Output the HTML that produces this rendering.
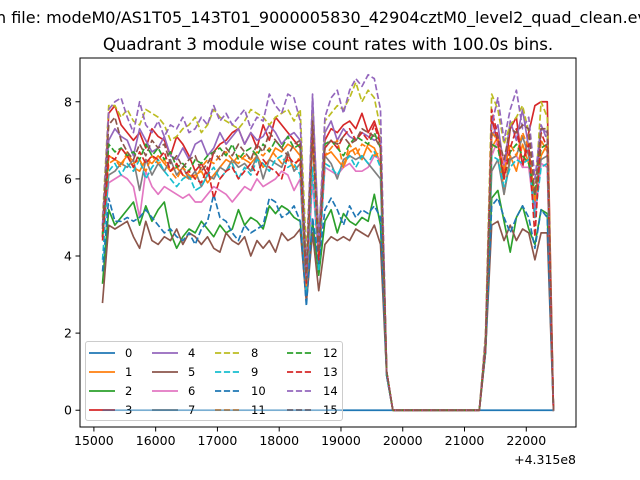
<!DOCTYPE html>
<html><head><meta charset="utf-8"><style>
html,body{margin:0;padding:0;background:#fff;}
svg{display:block;font-family:"DejaVu Sans","Liberation Sans",sans-serif;}
</style></head><body>
<svg id="chart" width="640" height="480" viewBox="0 0 640 480">
<rect x="0" y="0" width="640" height="480" fill="#fff"/>
<text x="-4" y="23" font-size="16.0" fill="#000">n file: modeM0/AS1T05_143T01_9000005830_42904cztM0_level2_quad_clean.evt</text>
<text x="328" y="50" font-size="16.6" text-anchor="middle" fill="#000">Quadrant 3 module wise count rates with 100.0s bins.</text>
<g id="plot"></g>
<g id="axes"></g>
<g id="legend"></g>
</svg>
<script>
const xStart = 15140;
const binSize = 100;
const xTicks = [15000,16000,17000,18000,19000,20000,21000,22000];
const yTicks = [0,2,4,6,8];
const offsetLabel = "+4.315e8";
const seriesNames = ["0","1","2","3","4","5","6","7","8","9","10","11","12","13","14","15"];
const gapZeros = [0,0,0,0,0,0,0,0,0,0,0,0,0,0,0];
const s0 = [0,0,0,0,0,0,0,0,0,0,0,0,0,0,0,0,0,0,0,0,0,0,0,0,0,0,0,0,0,0,0,0,0,0,0,0,0,0,0,0,0,0,0,0,0,0,0,0,0,0,0,0,0,0,0,0,0,0,0,0,0,0,0,0,0,0,0,0,0,0,0,0,0,0];
const s1A = [4.5,6.6,6.5,6.4,6.6,6.3,6.2,6.5,6.4,6.6,6.4,6.2,6.3,6.1,6.0,6.1,6.2,5.9,6.1,6.3,6.5,6.4,6.6,6.5,6.4,6.6,6.3,6.5,6.8,6.7,6.9,6.8,6.6,3.2,7.6,4.4,6.6,6.7,6.5,6.3,6.7,6.8,6.5,6.9,6.8,6.4,0.9];
const s1B = [1.6,6.8,7.1,5.6,6.6,6.2,6.9,6.4,5.0,6.6,6.9,0];
const s2A = [3.3,5.2,4.8,5.0,5.2,5.4,4.8,5.3,4.9,5.2,5.4,4.6,4.2,4.5,4.7,4.6,4.9,4.7,4.5,4.8,4.6,4.7,5.2,4.8,5.0,4.9,4.7,5.3,5.1,5.3,5.2,5.0,4.9,3.0,4.9,3.5,4.9,5.2,4.6,5.1,4.9,4.8,5.0,4.9,5.6,4.8,0.9];
const s2B = [1.5,5.5,5.7,4.9,4.1,5.0,5.3,4.7,4.3,5.2,5.1,0];
const s3A = [4.5,7.7,7.9,7.4,7.2,7.0,7.2,6.8,7.3,7.1,7.0,6.6,7.1,6.9,6.6,6.2,6.4,6.1,6.7,6.9,7.0,7.2,7.3,6.9,7.2,6.8,7.4,7.0,7.6,7.4,7.2,7.0,6.8,3.4,7.8,4.0,7.0,7.3,7.2,7.4,7.5,7.3,7.7,7.2,7.5,7.0,1.0];
const s3B = [1.8,7.6,6.9,6.0,7.3,7.6,6.3,7.2,7.9,8.0,8.0,0];
const s4A = [4.8,7.0,7.3,7.1,7.0,6.6,7.3,7.0,6.7,6.8,7.1,6.6,6.5,6.8,6.5,6.9,7.0,6.6,6.8,7.2,6.9,7.1,7.3,6.9,7.2,7.0,7.1,7.4,7.2,6.9,7.1,7.2,7.0,3.2,8.1,4.5,7.2,7.5,7.0,7.3,7.1,7.0,7.2,7.1,7.0,7.1,1.0];
const s4B = [1.7,7.1,7.4,6.3,7.5,7.0,7.8,6.8,5.2,7.3,7.2,0];
const s5A = [2.8,4.8,4.7,4.8,4.9,4.5,4.2,4.9,4.4,4.3,4.5,4.4,4.7,4.3,4.6,4.5,4.3,4.5,4.2,4.1,4.6,4.4,4.3,4.5,4.0,4.4,4.2,4.4,4.1,4.6,4.4,4.5,4.7,2.8,4.6,3.1,4.3,4.5,4.4,4.5,4.4,4.7,4.6,4.5,4.8,4.3,0.9];
const s5B = [1.5,4.8,4.9,4.4,4.8,4.4,4.7,4.6,3.9,4.6,4.6,0];
const s6A = [4.5,5.9,6.0,6.1,6.0,5.8,5.0,6.2,5.8,5.6,5.8,5.7,5.6,5.5,5.6,5.4,5.4,5.6,5.8,5.7,5.6,5.4,5.6,5.8,5.7,6.0,5.8,5.9,6.0,6.2,6.1,5.7,6.0,3.0,6.0,3.8,6.3,6.2,6.1,6.3,6.4,6.2,6.2,6.3,6.6,6.5,0.9];
const s6B = [1.6,6.6,7.0,6.4,6.5,6.6,6.3,6.3,5.0,6.4,6.3,0];
const s7A = [4.6,6.1,6.2,6.4,6.3,6.5,5.7,6.5,6.1,6.4,6.2,6.5,6.1,6.3,6.0,6.2,5.8,6.1,6.0,6.3,6.2,6.5,6.3,6.4,6.2,6.6,6.0,6.5,6.4,6.3,6.7,6.2,6.4,3.0,7.0,4.0,6.6,6.4,6.0,6.5,6.6,6.5,6.6,6.4,6.2,6.0,0.9];
const s7B = [1.6,6.2,6.5,5.6,6.5,6.6,7.1,6.6,5.6,6.5,6.6,0];
const s8A = [5.0,7.9,7.9,7.6,7.8,7.5,7.4,7.8,7.7,7.6,7.4,7.0,7.1,7.3,7.4,7.6,7.2,7.4,7.8,7.6,7.5,7.4,7.3,7.5,7.8,7.7,7.6,7.4,7.6,7.7,7.8,7.5,7.8,4.0,7.7,4.5,7.5,7.7,7.9,7.8,8.1,8.5,8.0,8.3,8.1,7.3,1.0];
const s8B = [2.0,8.2,7.8,6.9,7.4,7.6,7.9,7.2,5.5,8.0,7.6,0];
const s9A = [3.9,6.2,6.4,6.1,6.4,6.2,6.5,6.0,6.3,6.5,6.2,6.0,5.8,6.0,6.1,5.7,5.8,6.1,6.3,6.0,6.2,6.4,6.0,6.3,6.1,6.5,6.4,6.2,6.5,6.6,6.3,6.4,6.1,3.0,6.3,3.6,6.4,6.3,6.1,6.4,6.6,6.3,6.6,6.4,6.7,6.3,0.9];
const s9B = [1.6,6.6,6.5,5.8,6.3,6.5,6.4,6.5,5.0,6.3,6.4,0];
const s10A = [3.6,5.5,4.9,4.9,5.0,4.9,5.0,5.2,5.0,4.8,4.6,4.7,4.5,4.4,4.6,4.3,4.7,4.9,5.6,5.0,4.9,4.6,4.4,4.8,4.6,4.7,4.8,5.5,5.4,5.0,5.1,5.3,4.9,2.7,5.0,3.8,5.2,5.5,5.2,4.8,5.3,5.0,5.2,5.1,5.3,5.0,0.9];
const s10B = [1.5,5.3,5.5,5.0,4.6,5.0,5.3,5.0,4.2,5.2,5.0,0];
const s11A = [4.6,6.4,6.5,6.3,6.7,6.4,6.5,6.2,6.6,6.4,6.5,6.2,6.0,6.3,6.1,6.0,6.3,6.5,6.4,6.6,6.7,6.5,6.4,6.6,6.5,6.7,6.6,6.8,6.6,6.4,6.5,6.3,6.6,3.2,7.2,4.0,6.6,6.8,7.0,6.3,6.9,6.6,6.9,6.8,6.6,6.7,1.0];
const s11B = [1.7,7.2,7.0,6.2,6.9,6.6,7.2,6.8,5.4,7.0,6.7,0];
const s12A = [4.5,6.9,6.7,6.8,6.6,6.7,6.5,6.9,6.6,6.8,6.5,6.7,6.3,6.4,6.2,6.5,6.4,6.6,6.7,6.8,6.6,6.9,6.5,6.7,6.8,6.6,6.9,6.7,7.0,6.8,7.1,6.8,6.9,3.5,7.2,4.2,6.9,7.0,6.8,6.6,6.9,7.1,7.0,6.9,7.2,6.8,1.0];
const s12B = [1.7,6.9,6.8,6.0,6.7,6.9,6.6,6.4,5.6,6.8,6.9,0];
const s13A = [4.4,6.6,6.5,6.8,6.6,6.3,6.7,6.4,6.6,6.5,6.7,6.2,6.4,6.1,6.2,6.0,5.9,6.3,5.5,6.0,6.2,6.3,6.0,6.2,6.4,6.1,6.5,6.3,6.2,6.0,6.6,6.4,6.5,3.3,7.3,3.9,6.8,7.0,6.8,7.1,7.3,7.0,7.2,7.0,7.4,6.9,1.0];
const s13B = [1.6,7.8,7.1,6.0,6.8,7.3,6.4,6.9,4.5,7.2,6.8,0];
const s14A = [4.8,7.8,8.0,8.1,7.6,7.2,8.0,7.4,7.2,7.5,7.1,7.4,7.3,7.6,7.2,7.3,7.6,7.4,7.9,7.5,7.7,7.4,7.6,7.8,7.3,7.6,7.5,8.2,7.9,7.7,8.2,8.1,7.5,3.5,8.2,4.3,7.6,8.1,8.3,7.7,8.3,8.6,8.4,8.7,8.6,7.8,1.0];
const s14B = [1.9,7.4,8.1,7.0,7.8,8.3,7.3,7.6,6.0,7.4,7.0,0];
const s15A = [4.7,7.4,7.6,7.0,6.7,6.5,6.9,6.6,7.0,6.8,6.9,6.4,6.6,6.3,6.5,6.6,6.2,6.4,6.7,6.5,6.8,6.6,6.9,6.7,6.5,6.9,6.7,7.2,7.0,6.8,6.6,6.9,7.0,3.4,7.5,4.1,6.8,7.0,6.9,7.1,6.9,7.0,7.3,7.2,7.1,6.8,1.0];
const s15B = [1.7,7.2,7.1,6.5,7.3,7.2,7.4,7.3,5.6,7.3,7.3,0];

const seriesData = [s0,
  s1A.concat(gapZeros, s1B), s2A.concat(gapZeros, s2B), s3A.concat(gapZeros, s3B),
  s4A.concat(gapZeros, s4B), s5A.concat(gapZeros, s5B), s6A.concat(gapZeros, s6B),
  s7A.concat(gapZeros, s7B), s8A.concat(gapZeros, s8B), s9A.concat(gapZeros, s9B),
  s10A.concat(gapZeros, s10B), s11A.concat(gapZeros, s11B), s12A.concat(gapZeros, s12B),
  s13A.concat(gapZeros, s13B), s14A.concat(gapZeros, s14B), s15A.concat(gapZeros, s15B)];

const colors = ["#1f77b4","#ff7f0e","#2ca02c","#d62728","#9467bd","#8c564b","#e377c2","#7f7f7f","#bcbd22","#17becf"];
const NS = "http://www.w3.org/2000/svg";
const L = 80, R = 576, T = 58, B = 427;
let nPts = 0; seriesData.forEach(s => { nPts = Math.max(nPts, s.length); });
const xMin0 = xStart, xMax0 = xStart + (nPts - 1) * binSize;
let yMax0 = 0; seriesData.forEach(s => s.forEach(v => { if (v > yMax0) yMax0 = v; }));
const xPad = (xMax0 - xMin0) * 0.05, yPad = yMax0 * 0.05;
const xLo = xMin0 - xPad, xHi = xMax0 + xPad, yLo = -yPad, yHi = yMax0 + yPad;
function xs(v){ return L + (v - xLo) / (xHi - xLo) * (R - L); }
function ys(v){ return B - (v - yLo) / (yHi - yLo) * (B - T); }
function mk(tag, attrs, parent){ const e = document.createElementNS(NS, tag); for (const k in attrs) e.setAttribute(k, attrs[k]); parent.appendChild(e); return e; }

const plot = document.getElementById('plot');
const axes = document.getElementById('axes');
const legend = document.getElementById('legend');

const clip = mk('clipPath', {id:'clipPlot'}, plot);
mk('rect', {x:L, y:T, width:R-L, height:B-T}, clip);
const lines = mk('g', {'clip-path':'url(#clipPlot)'}, plot);

function drawSeries(idx){
  const data = seriesData[idx];
  const pts = data.map((v, i) => xs(xStart + i * binSize).toFixed(2) + ',' + ys(v).toFixed(2)).join(' ');
  const p = mk('polyline', {points: pts, fill:'none', stroke: colors[idx % 10], 'stroke-width':1.67, 'stroke-linejoin':'round', 'stroke-linecap': idx >= 8 ? 'butt' : 'square'}, lines);
  if (idx >= 8) p.setAttribute('stroke-dasharray', '6.2,2.7');
  
  
}
for (let i = 0; i < seriesData.length; i++) drawSeries(i);

const frame = mk('rect', {x:L, y:T, width:R-L, height:B-T, fill:'none', stroke:'#000', 'stroke-width':1}, axes);


xTicks.forEach(t => {
  const x = xs(t);
  const tk = mk('line', {x1:x, x2:x, y1:B, y2:B+4.5, stroke:'#000', 'stroke-width':1}, axes);
  
  
  const lb = mk('text', {x:x, y:B+18, 'font-size':12.5, 'text-anchor':'middle', fill:'#000'}, axes);
  lb.textContent = String(t);
  
  
});
yTicks.forEach(t => {
  const y = ys(t);
  const tk = mk('line', {x1:L-4.5, x2:L, y1:y, y2:y, stroke:'#000', 'stroke-width':1}, axes);
  
  
  const lb = mk('text', {x:L-8, y:y+4.5, 'font-size':12.5, 'text-anchor':'end', fill:'#000'}, axes);
  lb.textContent = String(t);
  
  
});
const off = mk('text', {x:R, y:B+37, 'font-size':12.5, 'text-anchor':'end', fill:'#000'}, axes);
off.textContent = offsetLabel;



const lbox = mk('rect', {x:85.5, y:341.5, width:257, height:79, rx:2.5, fill:'#fff', 'fill-opacity':0.8, stroke:'#ccc', 'stroke-width':1}, legend);


const colX = [89, 152, 215, 287];
const rowY = [353, 372, 391, 410];
seriesNames.forEach((n, i) => {
  const c = Math.floor(i / 4), r = i % 4;
  const g = mk('g', {}, legend);
  
  
  const ln = mk('line', {x1:colX[c], x2:colX[c]+26, y1:rowY[r], y2:rowY[r], stroke:colors[i % 10], 'stroke-width':1.67}, g);
  if (i >= 8) ln.setAttribute('stroke-dasharray', '6.2,2.7');
  const tx = mk('text', {x:colX[c]+36, y:rowY[r]+4, 'font-size':11.5, fill:'#000'}, g);
  tx.textContent = n;
});
const thru = mk('line', {x1:xs(xStart), x2:342, y1:ys(0), y2:ys(0), stroke:colors[0], 'stroke-width':1.67, 'stroke-opacity':0.5}, legend);


</script>
</body></html>
